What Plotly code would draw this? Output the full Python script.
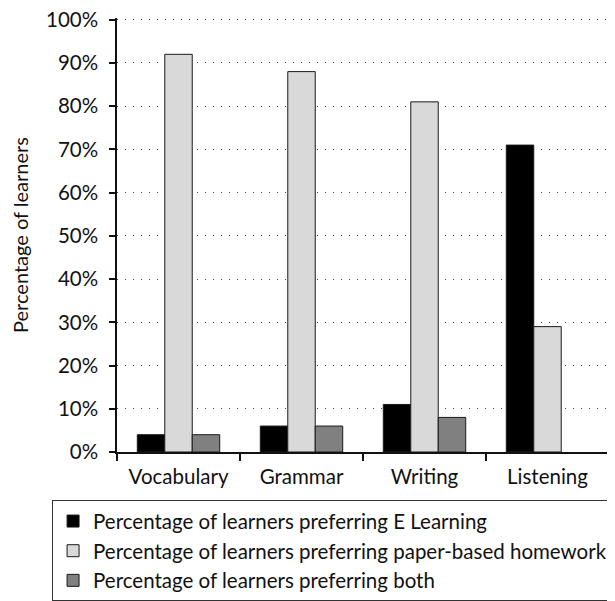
import plotly.graph_objects as go

categories = ["Vocabulary", "Grammar", "Writing", "Listening"]
e_learning = [4, 6, 11, 71]
paper_based = [92, 88, 81, 29]
both = [4, 6, 8, 0]

series_names = [
    "Percentage of learners preferring E Learning",
    "Percentage of learners preferring paper-based homework",
    "Percentage of learners preferring both",
]
series_values = [e_learning, paper_based, both]
series_colors = ["#000000", "#d9d9d9", "#808080"]
y_ticks = [0, 10, 20, 30, 40, 50, 60, 70, 80, 90, 100]

FONT = "Lato"
SIZE = 20.5

fig = go.Figure()
for i, (name, values, color) in enumerate(zip(series_names, series_values, series_colors)):
    fig.add_trace(
        go.Bar(
            x=categories,
            y=values,
            name=name,
            legendgroup=f"g{i}",
            marker={
                "color": color,
                # a zero-height bar draws no outline in the original
                "line": {"color": "#1a1a1a", "width": [1 if v > 0 else 0 for v in values]},
            },
            hoverinfo="skip",
        )
    )

# the page body adds an 8px offset, so the figure is drawn 8px smaller
fig.update_layout(
    width=607,
    height=593,
    barmode="group",
    bargap=0.33,
    bargroupgap=0,
    plot_bgcolor="white",
    paper_bgcolor="white",
    font={"family": FONT, "size": SIZE, "color": "#111111"},
    margin={"l": 109, "r": 6, "t": 10, "b": 149, "autoexpand": False},
    showlegend=True,
    legend={
        "x": -0.133,
        "xanchor": "left",
        "y": -0.11,
        "yanchor": "top",
        "bordercolor": "#333333",
        "borderwidth": 1.5,
        "bgcolor": "white",
        "font": {"family": FONT, "size": SIZE},
        "tracegroupgap": 19,
        "itemwidth": 30,
        "traceorder": "normal",
    },
)

fig.update_xaxes(
    showline=True,
    linecolor="#111111",
    linewidth=1.5,
    ticks="outside",
    tickson="boundaries",
    ticklen=7,
    tickcolor="#111111",
    tickwidth=1.5,
    ticklabelstandoff=6,
    showgrid=False,
    tickfont={"size": SIZE},
)
fig.update_yaxes(
    # a little headroom so the 100% gridline is not clipped at the edge
    range=[0, 100.4],
    tickmode="array",
    tickvals=y_ticks,
    ticktext=[f"{v}%" for v in y_ticks],
    ticklabeloverflow="allow",
    showline=True,
    linecolor="#111111",
    linewidth=1.5,
    ticks="outside",
    ticklen=6,
    tickcolor="#111111",
    tickwidth=1.5,
    ticklabelstandoff=7,
    showgrid=True,
    gridcolor="#444444",
    gridwidth=1,
    griddash="1px,7px",
    zeroline=False,
    tickfont={"size": SIZE},
    title={"text": "Percentage of learners", "font": {"size": 20}, "standoff": 24},
)

fig.write_html("out.html")
